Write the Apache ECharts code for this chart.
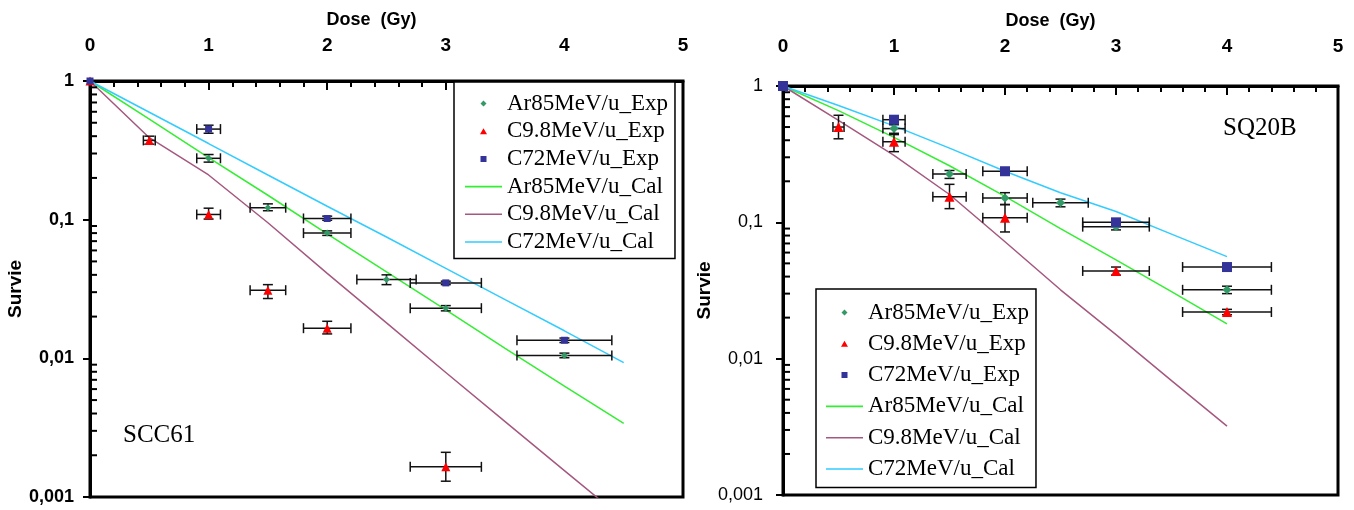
<!DOCTYPE html>
<html>
<head>
<meta charset="utf-8">
<script src="https://cdn.jsdelivr.net/npm/echarts@6/dist/echarts.min.js"></script>
<style>html,body{margin:0;padding:0;background:#fff;}#c{width:1354px;height:510px;}</style>
</head>
<body>
<div id="c"></div>
<script>
// ---------- data ----------
const xTickLabels = ['0', '1', '2', '3', '4', '5'];
const yTickLabels = { '1': '1', '0.1': '0,1', '0.01': '0,01', '0.001': '0,001' };
const seriesNames = ['Ar85MeV/u_Exp', 'C9.8MeV/u_Exp', 'C72MeV/u_Exp', 'Ar85MeV/u_Cal', 'C9.8MeV/u_Cal', 'C72MeV/u_Cal'];
const minorYTicks = [0.002,0.003,0.004,0.005,0.006,0.007,0.008,0.009,0.02,0.03,0.04,0.05,0.06,0.07,0.08,0.09,0.2,0.3,0.4,0.5,0.6,0.7,0.8,0.9];

// SCC61 (left)
const arExpL = [[0,1],[1,0.277],[1.5,0.122],[2,0.080],[2.5,0.037],[3,0.023],[4,0.0105]];
const arXErrL = [0,0.1,0.15,0.2,0.25,0.3,0.4];
const arYErrL = [[1,1],[0.26,0.295],[0.116,0.13],[0.077,0.083],[0.034,0.040],[0.022,0.024],[0.0101,0.0109]];
const c98ExpL = [[0,1],[0.5,0.373],[1,0.109],[1.5,0.031],[2,0.0165],[3,0.00165]];
const c98XErrL = [0,0.05,0.1,0.15,0.2,0.3];
const c98YErrL = [[1,1],[0.35,0.40],[0.101,0.121],[0.027,0.034],[0.015,0.0185],[0.0013,0.0021]];
const c72ExpL = [[0,1],[1,0.45],[2,0.102],[3,0.035],[4,0.0135]];
const c72XErrL = [0,0.1,0.2,0.3,0.4];
const c72YErrL = [[1,1],[0.42,0.48],[0.099,0.106],[0.034,0.036],[0.013,0.014]];
const calDoseL = [0,0.5,1,1.5,2,2.5,3,3.5,4,4.5];
const arCalL  = [1,0.53,0.28,0.15,0.079,0.042,0.0224,0.0118,0.0063,0.0034];
const c98CalL = [1,0.39,0.21,0.095,0.041,0.018,0.0079,0.0035,0.00155,0.00069];
const c72CalL = [1,0.595,0.354,0.21,0.125,0.075,0.0445,0.0265,0.0158,0.0093];

// SQ20B (right)
const arExpR = [[0,1],[1,0.487],[1.5,0.226],[2,0.151],[2.5,0.139],[3,0.093],[4,0.032]];
const arXErrR = [0,0.1,0.15,0.2,0.25,0.3,0.4];
const arYErrR = [[1,1],[0.44,0.54],[0.21,0.24],[0.135,0.165],[0.13,0.148],[0.088,0.098],[0.030,0.034]];
const c98ExpR = [[0,1],[0.5,0.5],[1,0.39],[1.5,0.154],[2,0.108],[3,0.044],[4,0.022]];
const c98XErrR = [0,0.05,0.1,0.15,0.2,0.3,0.4];
const c98YErrR = [[1,1],[0.41,0.61],[0.33,0.45],[0.126,0.19],[0.085,0.135],[0.041,0.047],[0.021,0.023]];
const c72ExpR = [[0,1],[1,0.566],[2,0.237],[3,0.1],[4,0.047]];
const c72XErrR = [0,0.1,0.2,0.3,0.4];
const c72YErrR = [[1,1],[0.52,0.6],[0.23,0.245],[0.097,0.103],[0.046,0.048]];
const calDoseR = [0,0.5,1,1.5,2,2.5,3,3.5,4];
const arCalR  = [1,0.66,0.42,0.26,0.155,0.09,0.053,0.031,0.018];
const c98CalR = [1,0.56,0.31,0.16,0.072,0.032,0.015,0.0069,0.0032];
const c72CalR = [1,0.72,0.51,0.35,0.237,0.165,0.12,0.082,0.056];

// ---------- styling ----------
const COL = { ar:'#339966', c98:'#ff0000', c72:'#333399', arL:'#33ee33', c98L:'#a5587f', c72L:'#33ccff' };
const SANS = "'Liberation Sans', Arial, sans-serif";
const NARROW = "'Liberation Sans Narrow', 'Liberation Sans', Arial, sans-serif";
const SERIF = "'Liberation Serif', 'Times New Roman', serif";
// legend icons: 37x7 box with tiny corner specks so the shape keeps its aspect
const BOX = 'M0,0L0.01,0L0,0.01Z M37,7L36.99,7L37,6.99Z ';
const ICON_DIAMOND = 'path://' + BOX + 'M18.5,0.5L21.5,3.5L18.5,6.5L15.5,3.5Z';
const ICON_TRI = 'path://' + BOX + 'M18.5,0.5L22,6.5L15,6.5Z';
const ICON_RECT = 'path://' + BOX + 'M15.5,0.5L21.5,0.5L21.5,6.5L15.5,6.5Z';
const ICON_LINE = 'path://' + BOX + 'M0,2.7L37,2.7L37,4.3L0,4.3Z';

function calSeries(name, doses, vals, color, gi) {
  return { type:'line', name, xAxisIndex:gi, yAxisIndex:gi, data: doses.map((d,i)=>[d, vals[i]]),
    symbol:'none', lineStyle:{color, width:1.5}, itemStyle:{color}, z:3, clip:true, animation:false };
}
function expSeries(name, pts, symbol, size, color, gi) {
  return { type:'scatter', name, xAxisIndex:gi, yAxisIndex:gi, data: pts, symbol, symbolSize:size,
    itemStyle:{color, opacity:1}, z:6, animation:false };
}
function errSeries(pts, xerr, yerr, gi) {
  return { type:'custom', name:'err', xAxisIndex:gi, yAxisIndex:gi, z:5, animation:false, silent:true,
    data: pts.map((p,i)=>[p[0], p[1], xerr[i], yerr[i][0], yerr[i][1]]),
    encode:{x:0, y:1},
    renderItem: function(params, api) {
      const x = api.value(0), y = api.value(1), xe = api.value(2), ylo = api.value(3), yhi = api.value(4);
      const st = { stroke:'#111', lineWidth:1.5 };
      const ch = [];
      if (xe > 0) {
        const a = api.coord([x - xe, y]), b = api.coord([x + xe, y]);
        ch.push({type:'line', shape:{x1:a[0], y1:a[1], x2:b[0], y2:b[1]}, style:st});
        ch.push({type:'line', shape:{x1:a[0], y1:a[1]-5, x2:a[0], y2:a[1]+5}, style:st});
        ch.push({type:'line', shape:{x1:b[0], y1:b[1]-5, x2:b[0], y2:b[1]+5}, style:st});
      }
      if (yhi > ylo) {
        const c = api.coord([x, ylo]), d = api.coord([x, yhi]);
        ch.push({type:'line', shape:{x1:c[0], y1:c[1], x2:d[0], y2:d[1]}, style:st});
        ch.push({type:'line', shape:{x1:c[0]-5, y1:c[1], x2:c[0]+5, y2:c[1]}, style:st});
        ch.push({type:'line', shape:{x1:d[0]-5, y1:d[1], x2:d[0]+5, y2:d[1]}, style:st});
      }
      return {type:'group', children:ch};
    }
  };
}
function minorTickSeries(gi) {
  return { type:'custom', name:'minor', xAxisIndex:gi, yAxisIndex:gi, z:8, silent:true, clip:false, animation:false,
    data: minorYTicks.map(v=>[0, v]), encode:{x:0, y:1},
    renderItem: function(params, api) {
      const p = api.coord([0, api.value(1)]);
      return {type:'line', shape:{x1:p[0], y1:p[1], x2:p[0]+7, y2:p[1]}, style:{stroke:'#000', lineWidth:2}};
    }
  };
}
function xAxisCfg(gi, margin, shift) {
  return { type:'value', gridIndex:gi, position:'top', min:0, max:5, interval:1,
    name:'Dose  (Gy)', nameLocation:'middle', nameGap: margin + 26,
    nameTextStyle:{fontFamily:SANS, fontWeight:'bold', fontSize:18, color:'#000', padding:[0, shift, 0, 0]},
    axisLine:{show:true, onZero:false, lineStyle:{color:'#000', width:3}},
    axisTick:{show:true, inside:true, length:9, lineStyle:{color:'#000', width:2}},
    minorTick:{show:true, splitNumber:5, length:6, lineStyle:{color:'#000', width:2}},
    splitLine:{show:false},
    axisLabel:{margin, fontFamily:NARROW, fontWeight:'bold', fontSize:19, color:'#000',
      formatter: v => xTickLabels[Math.round(v)]}
  };
}
function yAxisCfg(gi, bold, margin, gap) {
  return { type:'log', logBase:10, gridIndex:gi, min:0.001, max:1,
    name:'Survie', nameLocation:'middle', nameGap:gap,
    nameTextStyle:{fontFamily:SANS, fontWeight:'bold', fontSize:19, color:'#000'},
    axisLine:{show:true, onZero:false, lineStyle:{color:'#000', width:3}},
    axisTick:{show:true, inside:false, length:7, lineStyle:{color:'#000', width:2}},
    minorTick:{show:false}, splitLine:{show:false},
    axisLabel:{margin, fontFamily:SANS, fontWeight: bold ? 'bold' : 'normal', fontSize:18, color:'#000',
      formatter: v => { const k = String(+v.toPrecision(3)); return yTickLabels[k] !== undefined ? yTickLabels[k] : ''; }}
  };
}
function legendCfg(left, top, gap, padding) {
  return { show:true, orient:'vertical', left, top, itemGap:gap, itemWidth:37, itemHeight:7, itemTextGap:6,
    symbolKeepAspect:true,
    backgroundColor:'#fff', borderColor:'#000', borderWidth:1.5, borderRadius:0, padding,
    selectedMode:false,
    itemStyle:{borderWidth:0},
    textStyle:{fontFamily:SERIF, fontSize:23, color:'#000', lineHeight:20},
    data:[{name:seriesNames[0], icon:ICON_DIAMOND}, {name:seriesNames[1], icon:ICON_TRI}, {name:seriesNames[2], icon:ICON_RECT},
          {name:seriesNames[3], icon:ICON_LINE}, {name:seriesNames[4], icon:ICON_LINE}, {name:seriesNames[5], icon:ICON_LINE}] };
}

const option = {
  backgroundColor:'#fff',
  animation:false,
  grid:[
    {left:90, top:81, width:593, height:416, show:true, borderColor:'#000', borderWidth:3, backgroundColor:'transparent'},
    {left:783, top:86, width:555, height:409, show:true, borderColor:'#000', borderWidth:3, backgroundColor:'transparent'}
  ],
  xAxis:[ xAxisCfg(0, 26, 30), xAxisCfg(1, 30, 20) ],
  yAxis:[ yAxisCfg(0, true, 16, 62), yAxisCfg(1, false, 20, 58) ],
  legend:[ legendCfg(454, 82, 4.7, [10, 7, 5, 11]), legendCfg(816, 289, 8.3, [12, 7, 7, 10]) ],
  graphic:[
    {type:'text', left:123, top:423, style:{text:'SCC61', font:"25px 'Liberation Serif', serif", fill:'#000'}},
    {type:'text', left:1223, top:116, style:{text:'SQ20B', font:"25px 'Liberation Serif', serif", fill:'#000'}}
  ],
  series:[
    calSeries(seriesNames[3], calDoseL, arCalL, COL.arL, 0),
    calSeries(seriesNames[4], calDoseL, c98CalL, COL.c98L, 0),
    calSeries(seriesNames[5], calDoseL, c72CalL, COL.c72L, 0),
    errSeries(arExpL, arXErrL, arYErrL, 0),
    errSeries(c98ExpL, c98XErrL, c98YErrL, 0),
    errSeries(c72ExpL, c72XErrL, c72YErrL, 0),
    expSeries(seriesNames[0], arExpL, 'diamond', 7, COL.ar, 0),
    expSeries(seriesNames[1], c98ExpL, 'triangle', 9, COL.c98, 0),
    expSeries(seriesNames[2], c72ExpL, 'rect', 7, COL.c72, 0),
    minorTickSeries(0),

    calSeries(seriesNames[3], calDoseR, arCalR, COL.arL, 1),
    calSeries(seriesNames[4], calDoseR, c98CalR, COL.c98L, 1),
    calSeries(seriesNames[5], calDoseR, c72CalR, COL.c72L, 1),
    errSeries(arExpR, arXErrR, arYErrR, 1),
    errSeries(c98ExpR, c98XErrR, c98YErrR, 1),
    errSeries(c72ExpR, c72XErrR, c72YErrR, 1),
    expSeries(seriesNames[0], arExpR, 'diamond', 9, COL.ar, 1),
    expSeries(seriesNames[1], c98ExpR, 'triangle', 10, COL.c98, 1),
    expSeries(seriesNames[2], c72ExpR, 'rect', 10, COL.c72, 1),
    minorTickSeries(1)
  ]
};
const chart = echarts.init(document.getElementById('c'), null, {renderer:'canvas'});
chart.setOption(option);
</script>
</body>
</html>
